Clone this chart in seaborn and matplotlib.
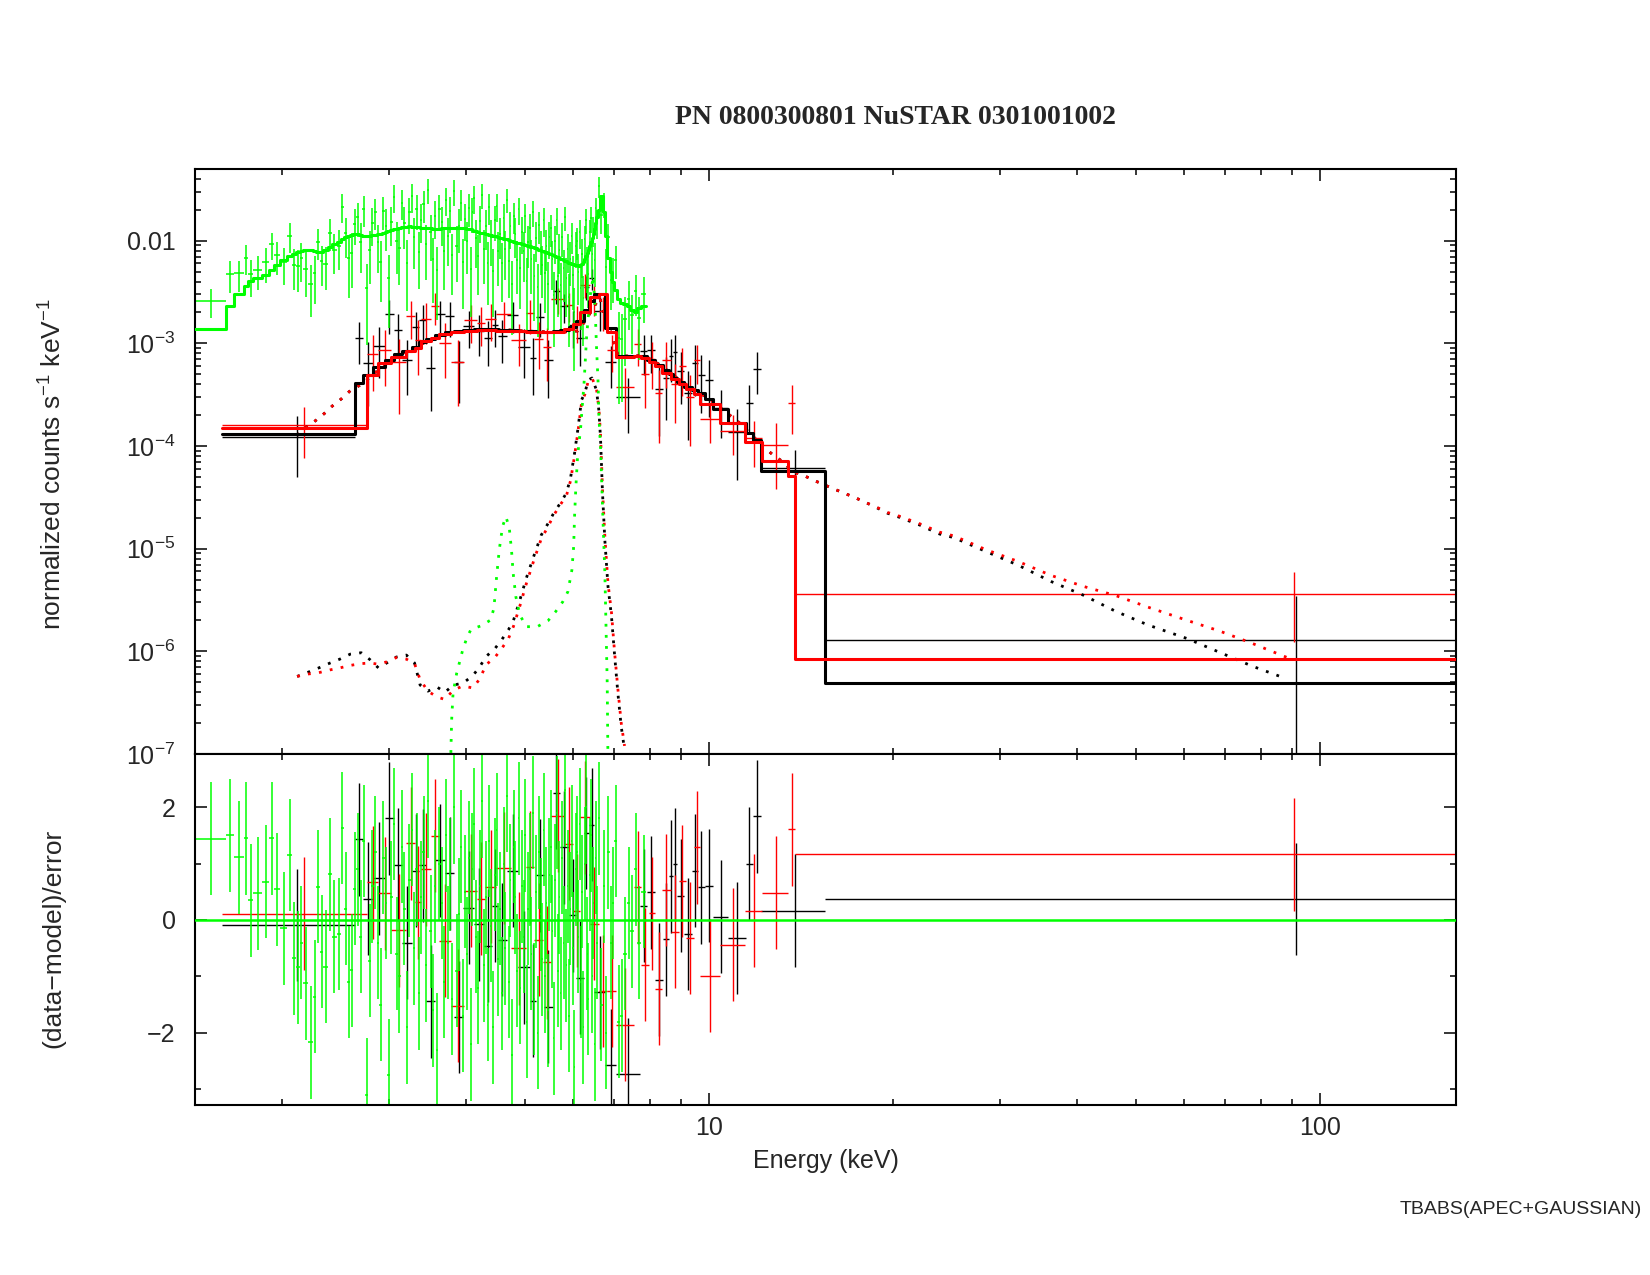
import numpy as np
import matplotlib
matplotlib.use("Agg")
import matplotlib.pyplot as plt
import matplotlib.ticker as mticker
import seaborn as sns

# XSPEC style unfolded spectrum, PN (green) + NuSTAR FPMA (black) / FPMB (red)
# each data set: bin edges (keV), folded model per bin, residual, fractional error

black_edges = [1.597, 2.636, 2.72, 2.82, 2.95, 3.05, 3.15, 3.27, 3.36, 3.45,
               3.57, 3.70, 3.83, 3.96, 4.13, 4.28, 4.41, 4.52, 4.67, 4.88,
               5.09, 5.22, 5.38, 5.55, 5.71, 5.90, 6.07, 6.24, 6.36, 6.50,
               6.76, 7.06, 7.71, 7.93, 8.16, 8.40, 8.60, 8.73, 8.88, 9.10,
               9.38, 9.60, 9.85, 10.16, 10.75, 11.50, 11.80, 12.19, 15.48, 167.5]
black_model = [1.30e-4, 4.13e-4, 4.9e-4, 5.9e-4, 6.9e-4, 7.9e-4, 8.5e-4, 9.3e-4, 1.04e-3, 1.10e-3,
               1.20e-3, 1.28e-3, 1.33e-3, 1.36e-3, 1.37e-3, 1.37e-3, 1.37e-3, 1.36e-3, 1.35e-3, 1.32e-3,
               1.31e-3, 1.30e-3, 1.30e-3, 1.31e-3, 1.35e-3, 1.45e-3, 1.65e-3, 2.1e-3, 2.6e-3, 3.05e-3,
               1.4e-3, 7.5e-4, 7.6e-4, 6.9e-4, 6.1e-4, 5.5e-4, 5.0e-4, 4.6e-4, 4.2e-4, 3.8e-4,
               3.5e-4, 3.26e-4, 2.9e-4, 2.3e-4, 1.66e-4, 1.33e-4, 1.14e-4, 5.7e-5, 4.9e-7]
black_resid = [-0.09, 1.43, 0.38, 0.74, 1.80, 0.98, -0.40, 0.87, 0.97, -1.44,
               1.06, 0.83, -1.72, 0.22, -0.08, -0.46, 0.25, -0.35, 0.87, -0.84,
               -1.43, 0.79, -1.54, 2.25, 1.29, 0.08, -1.02, 1.54, 1.69, -1.28,
               -2.57, -2.73, 0.25, 0.49, -1.06, -0.34, 0.77, 0.99, 0.43, -0.25,
               0.87, 0.58, 0.61, 0.06, -0.32, 1.0, 1.84, 0.16, 0.37]
black_rel = [0.58, 0.73, 0.7, 0.65, 0.6, 0.55, 0.5, 0.5, 0.5, 0.45,
             0.45, 0.45, 0.42, 0.42, 0.42, 0.42, 0.42, 0.42, 0.4, 0.42,
             0.42, 0.42, 0.42, 0.42, 0.42, 0.4, 0.38, 0.35, 0.3, 0.3,
             0.3, 0.35, 0.45, 0.45, 0.5, 0.55, 0.55, 0.6, 0.6, 0.6,
             0.7, 0.7, 0.7, 0.5, 0.6, 0.7, 0.97, 0.5, 2.72]

red_edges = [1.597, 2.754, 2.88, 3.02, 3.20, 3.30, 3.38, 3.51, 3.62, 3.78,
             3.98, 4.18, 4.31, 4.49, 4.75, 5.02, 5.18, 5.35, 5.52, 5.80,
             6.00, 6.16, 6.38, 6.60, 6.82, 7.06, 7.55, 7.74, 7.97, 8.17,
             8.38, 8.66, 8.93, 9.18, 9.45, 9.66, 10.42, 11.48, 12.24, 13.50,
             13.85, 167.5]
red_model = [1.50e-4, 4.9e-4, 6.4e-4, 7.4e-4, 8.4e-4, 9.0e-4, 1.05e-3, 1.12e-3, 1.22e-3, 1.30e-3,
             1.33e-3, 1.34e-3, 1.34e-3, 1.33e-3, 1.31e-3, 1.29e-3, 1.28e-3, 1.28e-3, 1.30e-3, 1.38e-3,
             1.55e-3, 2.0e-3, 2.8e-3, 3.0e-3, 1.3e-3, 7.4e-4, 7.6e-4, 7.2e-4, 6.6e-4, 6.0e-4,
             5.2e-4, 4.5e-4, 4.0e-4, 3.6e-4, 3.2e-4, 2.56e-4, 1.66e-4, 1.1e-4, 7.2e-5, 5.1e-5,
             8.4e-7]
red_resid = [0.11, 0.67, 0.47, -0.18, 1.36, 0.31, 0.9, 1.49, -0.37, -1.52,
             0.52, 0.38, 0.59, 0.92, -0.50, 0.93, -0.35, -0.75, 1.85, 1.35,
             0.16, 1.82, -0.07, -1.26, -1.26, -1.86, 0.58, -0.79, 0.12, -1.22,
             0.53, -0.21, 0.69, -0.32, 1.29, -0.99, -0.44, 0.16, 0.48, 1.61,
             1.16]
red_rel = [0.53, 0.7, 0.65, 0.65, 0.6, 0.6, 0.55, 0.5, 0.5, 0.45,
           0.45, 0.45, 0.45, 0.4, 0.4, 0.45, 0.45, 0.45, 0.4, 0.4,
           0.4, 0.35, 0.32, 0.3, 0.32, 0.37, 0.45, 0.45, 0.5, 0.5,
           0.55, 0.55, 0.6, 0.6, 0.6, 0.35, 0.38, 0.5, 0.75, 1.13,
           1.37]

green_edges = [1.443, 1.622, 1.673, 1.735, 1.765, 1.795, 1.86, 1.91, 1.945, 1.99,
               2.04, 2.08, 2.11, 2.14, 2.17, 2.21, 2.25, 2.28, 2.31, 2.34,
               2.38, 2.42, 2.46, 2.50,
               2.53, 2.56, 2.59, 2.62, 2.65, 2.68, 2.71, 2.74, 2.77, 2.80,
               2.83, 2.86, 2.89, 2.92, 2.95, 2.98, 3.01, 3.04, 3.07, 3.10,
               3.13, 3.16, 3.19, 3.22, 3.25, 3.28, 3.31, 3.34, 3.37, 3.40,
               3.43, 3.46, 3.49, 3.52, 3.55, 3.58, 3.61, 3.64, 3.67, 3.70,
               3.73, 3.76, 3.79, 3.82, 3.85, 3.88, 3.91, 3.94, 3.97, 4.00,
               4.03, 4.06, 4.09, 4.12, 4.15, 4.18, 4.21, 4.24, 4.27, 4.30,
               4.33, 4.36, 4.39, 4.42, 4.45, 4.48, 4.51, 4.54, 4.57, 4.60,
               4.63, 4.66, 4.69, 4.72, 4.75, 4.78, 4.81, 4.84, 4.87, 4.90,
               4.93, 4.96, 4.99, 5.02, 5.05, 5.08, 5.11, 5.14, 5.17, 5.20,
               5.23, 5.26, 5.29, 5.32, 5.35, 5.38, 5.41, 5.44, 5.47, 5.50,
               5.53, 5.56, 5.59, 5.62, 5.65, 5.68, 5.71, 5.74, 5.77, 5.80,
               5.83, 5.86, 5.89, 5.92, 5.95, 5.98, 6.01, 6.04, 6.07, 6.10,
               6.13, 6.16, 6.19, 6.22, 6.25, 6.28, 6.31, 6.34, 6.37, 6.40,
               6.43, 6.46, 6.49, 6.52, 6.55, 6.58,
               6.64, 6.70, 6.76, 6.82, 6.88, 6.94, 7.00, 7.08, 7.16, 7.24,
               7.34, 7.44, 7.54, 7.64, 7.76, 7.89]
# model in units of 1e-3 counts/s/keV
green_model_m = [1.39, 2.32, 3.02, 3.6, 4.05, 4.3, 4.63, 5.2, 5.8, 6.5,
                 7.1, 7.5, 7.8, 7.9, 8.1, 8.2, 8.0, 7.8, 7.8, 8.2,
                 8.7, 9.2, 9.8,
                 10.5, 10.8, 11.1, 11.4, 11.6, 11.5, 11.3, 11.1, 11.1, 11.2,
                 11.3, 11.4, 11.5, 11.7, 12.0, 12.2, 12.5, 12.7, 12.9, 13.1,
                 13.3, 13.5, 13.6, 13.7, 13.8, 13.7, 13.7, 13.6, 13.5, 13.4,
                 13.4, 13.3, 13.2, 13.2, 13.1, 13.1, 13.1, 13.1, 13.2, 13.2,
                 13.3, 13.3, 13.4, 13.4, 13.4, 13.3, 13.3, 13.3, 13.2, 13.2,
                 13.1, 13.0, 12.9, 12.7, 12.5, 12.3, 12.2, 12.0, 11.9, 11.8,
                 11.7, 11.5, 11.4, 11.3, 11.2, 11.1, 11.0, 10.9, 10.7, 10.6,
                 10.5, 10.4, 10.3, 10.2, 10.0, 9.9, 9.8, 9.7, 9.6, 9.5,
                 9.4, 9.3, 9.2, 9.1, 9.0, 8.9, 8.8, 8.7, 8.6, 8.5,
                 8.4, 8.3, 8.2, 8.1, 8.0, 7.9, 7.8, 7.7, 7.6, 7.5,
                 7.4, 7.3, 7.2, 7.1, 7.0, 6.9, 6.8, 6.7, 6.6, 6.5,
                 6.4, 6.3, 6.2, 6.1, 6.0, 5.95, 5.9, 5.85, 5.8, 5.75,
                 5.7, 5.7, 5.75, 5.9, 6.2, 6.6, 7.1, 7.6, 8.2, 8.9,
                 9.7, 10.6, 11.7, 13.0, 14.8, 17.0,
                 20.0, 27.0, 19.0, 11.0, 6.8, 5.0, 4.0, 3.3, 2.7, 2.5,
                 2.4, 2.3, 2.1, 2.0, 2.2, 2.3]
green_resid = [1.44, 1.50, 1.11, 1.45, 0.35, 0.47, 0.68, 1.45, 0.54, -0.15,
               1.15, -0.68, -0.84, -0.40, -1.12, -2.17, -1.36, 0.59, -0.56, -0.83,
               0.81, -0.30, -0.25,
               1.63, 0.2, -1.1, -0.89, 0.55, 0.9, -0.3, 1.4, -3.1, -0.72,
               0.6, 1.2, -0.4, -1.5, 1.1, 0.3, -2.75, 0.4, 1.7, -0.6,
               -1.0, 1.3, 0.2, -1.9, 0.7, 1.6, -0.5, 0.9, -1.3, 0.4,
               1.2, -0.8, 2.1, -0.2, -1.6, 0.6, -2.3, 1.0, 0.3, -1.1,
               1.5, -0.4, 0.8, -1.4, 2.0, -0.9, 0.1, 1.3, -1.7, 0.5,
               -0.6, 1.1, -2.2, 0.9, 1.7, -0.3, -1.2, 0.6, 2.1, -0.8,
               0.4, -1.5, 1.4, -0.1, -1.9, 0.8, 1.6, -0.7, 0.2, -1.3,
               1.0, -0.5, 2.2, -1.1, 0.7, -2.4, 1.3, 0.4, -0.9, 1.8,
               -1.2, 0.6, -0.3, 1.5, -1.8, 0.2, 0.9, -0.6, 1.9, -1.4,
               0.5, -2.0, 1.2, 0.1, -0.7, 1.6, -1.0, 0.3, -1.6, 0.8,
               1.3, -0.2, -2.1, 0.7, 1.9, -0.9, 0.4, -1.3, 1.1, -0.4,
               2.3, -0.8, 0.6, -1.7, 0.2, 1.4, -0.5, -2.6, 0.9, 1.2,
               -0.3, 1.7, -1.1, 0.5, -1.9, 1.0, 2.0, -0.6, -1.4, 0.8,
               1.5, -1.0, 0.3, -2.2, 1.1, -0.4,
               1.8, -1.5, 0.6, -2.0, 1.2, -0.4, 0.3, 1.4, -1.8, -1.7,
               -0.6, 0.3, -0.2, 0.9, -0.4, 0.5]
green_rel = [0.43, 0.48, 0.42, 0.45, 0.42, 0.4, 0.42, 0.4, 0.4, 0.38,
             0.4, 0.38, 0.38, 0.38, 0.38, 0.36, 0.38, 0.38, 0.38, 0.38,
             0.4, 0.4, 0.4,
             0.45, 0.44, 0.46, 0.45, 0.43, 0.45, 0.47, 0.44, 0.40, 0.45,
             0.46, 0.44, 0.45, 0.43, 0.45, 0.47, 0.40, 0.45, 0.44, 0.46,
             0.45, 0.43, 0.46, 0.44, 0.45, 0.44, 0.46, 0.45, 0.43, 0.45,
             0.44, 0.46, 0.42, 0.45, 0.44, 0.46, 0.42, 0.45, 0.44, 0.46,
             0.43, 0.45, 0.46, 0.44, 0.42, 0.45, 0.46, 0.44, 0.45, 0.43,
             0.46, 0.44, 0.42, 0.45, 0.44, 0.46, 0.45, 0.44, 0.42, 0.45,
             0.46, 0.44, 0.45, 0.46, 0.43, 0.45, 0.44, 0.46, 0.45, 0.44,
             0.46, 0.45, 0.42, 0.44, 0.46, 0.42, 0.45, 0.46, 0.44, 0.43,
             0.46, 0.45, 0.47, 0.44, 0.45, 0.46, 0.45, 0.47, 0.43, 0.46,
             0.47, 0.44, 0.46, 0.47, 0.45, 0.44, 0.47, 0.46, 0.45, 0.47,
             0.46, 0.48, 0.44, 0.47, 0.45, 0.48, 0.46, 0.47, 0.46, 0.48,
             0.44, 0.48, 0.47, 0.46, 0.48, 0.46, 0.48, 0.43, 0.47, 0.46,
             0.48, 0.45, 0.47, 0.46, 0.44, 0.45, 0.42, 0.42, 0.40, 0.38,
             0.36, 0.36, 0.34, 0.32, 0.31, 0.30,
             0.3, 0.28, 0.3, 0.35, 0.4, 0.45, 0.5, 0.5, 0.5, 0.5,
             0.55, 0.55, 0.55, 0.55, 0.55, 0.55]

# model components (dotted)
gauss_E = [2.12, 2.20, 2.30, 2.40, 2.49, 2.59, 2.70, 2.79, 2.88, 2.97,
           3.08, 3.20, 3.30, 3.37, 3.47, 3.59, 3.70, 3.82, 3.96, 4.11,
           4.22, 4.32, 4.47, 4.58, 4.70, 4.79, 4.91, 5.03, 5.18, 5.32,
           5.46, 5.57, 5.72, 5.85, 5.94, 6.03, 6.11, 6.19, 6.27, 6.35,
           6.44, 6.55, 6.61, 6.65, 6.70, 6.76, 6.84, 6.93, 7.01, 7.10,
           7.19, 7.28]
black_gauss = [5.7e-7, 6.2e-7, 6.9e-7, 7.7e-7, 8.4e-7, 9.4e-7, 9.7e-7, 8.3e-7, 6.9e-7, 7.7e-7,
               8.8e-7, 9.2e-7, 7.7e-7, 4.7e-7, 4.1e-7, 4.5e-7, 4.0e-7, 4.7e-7, 4.9e-7, 5.8e-7,
               7.1e-7, 8.9e-7, 1.07e-6, 1.29e-6, 1.62e-6, 2.0e-6, 3.2e-6, 5.2e-6, 8.7e-6, 1.36e-5,
               1.77e-5, 2.2e-5, 2.8e-5, 3.5e-5, 4.9e-5, 8.5e-5, 1.5e-4, 2.8e-4, 3.3e-4, 4.4e-4,
               4.6e-4, 3.5e-4, 2.2e-4, 1.2e-4, 3.5e-5, 1.2e-5, 4.3e-6, 2.2e-6, 9.4e-7, 3.9e-7,
               1.85e-7, 1.1e-7]
red_gauss = [5.7e-7, 6.0e-7, 6.2e-7, 6.6e-7, 6.9e-7, 7.3e-7, 7.6e-7, 7.7e-7, 7.5e-7, 7.9e-7,
             8.7e-7, 8.4e-7, 7.6e-7, 5.3e-7, 4.1e-7, 3.6e-7, 3.4e-7, 4.2e-7, 4.6e-7, 4.4e-7,
             5.4e-7, 7.4e-7, 8.8e-7, 1.06e-6, 1.33e-6, 1.75e-6, 2.8e-6, 4.6e-6, 7.9e-6, 1.25e-5,
             1.65e-5, 2.1e-5, 2.7e-5, 3.3e-5, 4.6e-5, 8.0e-5, 1.4e-4, 2.6e-4, 3.2e-4, 4.3e-4,
             4.6e-4, 3.6e-4, 2.3e-4, 1.3e-4, 3.8e-5, 1.3e-5, 4.6e-6, 2.4e-6, 1.0e-6, 4.3e-7,
             2.0e-7, 1.2e-7]
green_gauss_E = [3.78, 3.795, 3.815, 3.867, 3.956, 4.016, 4.082, 4.248, 4.395, 4.45,
                 4.495, 4.54, 4.597, 4.654, 4.713, 4.755, 4.785, 4.834, 4.906, 5.031,
                 5.24, 5.457, 5.61, 5.77, 5.88, 5.97, 6.01, 6.03, 6.06, 6.10,
                 6.17, 6.21, 6.25, 6.31, 6.39, 6.47, 6.52, 6.55, 6.59, 6.61,
                 6.65, 6.71, 6.76, 6.79, 6.82, 6.84]
green_gauss = [8.0e-8, 2.15e-7, 3.9e-7, 6.1e-7, 1.03e-6, 1.34e-6, 1.64e-6, 1.78e-6, 2.02e-6, 2.63e-6,
               5.3e-6, 9.7e-6, 1.64e-5, 2.05e-5, 1.64e-5, 9.7e-6, 5.76e-6, 3.4e-6, 2.26e-6, 1.74e-6,
               1.74e-6, 1.99e-6, 2.42e-6, 3.05e-6, 3.81e-6, 6.2e-6, 1.05e-5, 2.05e-5, 4.0e-5, 8.0e-5,
               1.5e-4, 2.5e-4, 4.1e-4, 1.16e-3, 2.8e-3, 4.5e-3, 2.0e-3, 9.3e-4, 4.1e-4, 1.9e-4,
               1.0e-4, 2.0e-5, 5.8e-6, 1.7e-6, 4.9e-7, 8.0e-8]
black_apec_E = [2.12, 2.20, 2.27, 2.35, 2.42, 2.51, 2.59, 2.69, 2.78, 2.89,
                3.00, 3.10, 3.21, 3.33, 3.45, 3.60, 3.78, 4.00, 4.30, 4.60,
                5.00, 5.30, 5.60, 5.90, 6.10, 6.30, 6.45, 6.63, 6.80, 6.95,
                7.10, 7.40, 7.80, 8.10, 8.50, 9.00, 9.50, 10.0, 10.5, 11.2,
                11.8, 12.27, 12.74, 13.23, 13.74, 14.27, 14.81, 15.48, 16.07, 16.69,
                17.44, 18.11, 18.92, 19.63, 20.53, 22.14, 23.86, 25.2, 28.4, 32.1,
                36.3, 41.0, 46.3, 52.3, 60.7, 68.5, 77.4, 87.5]
black_apec = [1.27e-4, 1.54e-4, 1.76e-4, 2.08e-4, 2.45e-4, 2.91e-4, 3.46e-4, 3.93e-4, 4.6e-4, 5.6e-4,
              6.6e-4, 7.6e-4, 8.4e-4, 9.3e-4, 1.04e-3, 1.15e-3, 1.26e-3, 1.33e-3, 1.36e-3, 1.36e-3,
              1.32e-3, 1.30e-3, 1.29e-3, 1.30e-3, 1.32e-3, 1.7e-3, 2.15e-3, 2.8e-3, 1.6e-3, 1.2e-3,
              7.6e-4, 7.5e-4, 7.6e-4, 6.9e-4, 5.6e-4, 4.3e-4, 3.5e-4, 2.9e-4, 2.3e-4, 1.7e-4,
              1.25e-4, 9.85e-5, 8.2e-5, 7.0e-5, 5.6e-5, 5.2e-5, 4.67e-5, 4.17e-5, 3.79e-5, 3.46e-5,
              3.1e-5, 2.8e-5, 2.47e-5, 2.21e-5, 2.02e-5, 1.7e-5, 1.39e-5, 1.28e-5, 9.4e-6, 6.9e-6,
              4.8e-6, 3.53e-6, 2.46e-6, 1.81e-6, 1.33e-6, 9.8e-7, 7.2e-7, 5.5e-7]
red_apec_E = [2.12, 2.20, 2.27, 2.35, 2.42, 2.51, 2.59, 2.69, 2.78, 2.89,
              3.00, 3.10, 3.21, 3.33, 3.45, 3.60, 3.78, 4.00, 4.30, 4.60,
              5.00, 5.30, 5.60, 5.90, 6.10, 6.30, 6.45, 6.63, 6.80, 6.95,
              7.10, 7.40, 7.80, 8.10, 8.50, 9.00, 9.50, 10.0, 10.5, 11.2,
              11.8, 12.27, 12.74, 13.23, 13.74, 14.27, 14.81, 15.48, 16.07, 16.69,
              17.44, 18.11, 18.92, 19.63, 20.53, 22.14, 23.86, 25.2, 28.4, 32.1,
              36.3, 41.0, 46.3, 52.3, 60.7, 68.5, 77.4, 89.3]
red_apec = [1.27e-4, 1.54e-4, 1.76e-4, 2.08e-4, 2.45e-4, 2.91e-4, 3.46e-4, 3.93e-4, 4.6e-4, 5.6e-4,
            6.6e-4, 7.6e-4, 8.4e-4, 9.3e-4, 1.04e-3, 1.15e-3, 1.26e-3, 1.33e-3, 1.36e-3, 1.36e-3,
            1.32e-3, 1.30e-3, 1.29e-3, 1.30e-3, 1.32e-3, 1.7e-3, 2.15e-3, 2.8e-3, 1.6e-3, 1.2e-3,
            7.6e-4, 7.5e-4, 7.6e-4, 6.9e-4, 5.6e-4, 4.3e-4, 3.5e-4, 2.9e-4, 2.3e-4, 1.7e-4,
            1.25e-4, 9.85e-5, 8.2e-5, 7.0e-5, 5.6e-5, 5.2e-5, 4.67e-5, 4.17e-5, 3.79e-5, 3.46e-5,
            3.1e-5, 2.8e-5, 2.5e-5, 2.25e-5, 2.07e-5, 1.75e-5, 1.45e-5, 1.33e-5, 9.8e-6, 7.5e-6,
            5.5e-6, 4.3e-6, 3.5e-6, 2.7e-6, 2.0e-6, 1.58e-6, 1.2e-6, 8.5e-7]

title = "PN 0800300801 NuSTAR 0301001002"
model_name = "TBABS(APEC+GAUSSIAN)"
ytick_vals = [1e-7, 1e-6, 1e-5, 1e-4, 1e-3, 1e-2]
ytick_labels = [r"$\mathregular{10^{-7}}$", r"$\mathregular{10^{-6}}$", r"$\mathregular{10^{-5}}$",
                r"$\mathregular{10^{-4}}$", r"$\mathregular{10^{-3}}$", "0.01"]

GREEN = "#00ff00"
RED = "#ff0000"
BLACK = "#000000"

sns.set_style("ticks")
plt.rcParams["font.family"] = ["Liberation Sans", "DejaVu Sans"]
plt.rcParams["mathtext.fontset"] = "custom"
plt.rcParams["mathtext.rm"] = "Liberation Sans"
plt.rcParams["mathtext.it"] = "Liberation Sans:italic"
plt.rcParams["mathtext.bf"] = "Liberation Sans:bold"
plt.rcParams["axes.unicode_minus"] = True


def spectrum(edges, model, resid, rel):
    # poisson-like error: err = rel * sqrt(model * data), resid = (data - model) / err
    edges = np.asarray(edges, dtype=float)
    model = np.asarray(model, dtype=float)
    resid = np.asarray(resid, dtype=float)
    rel = np.asarray(rel, dtype=float)
    lo, hi = edges[:-1], edges[1:]
    x = 0.5 * (lo + hi)
    k = resid * rel
    u = 0.5 * (k + np.sqrt(k ** 2 + 4.0))
    data = model * u ** 2
    err = rel * model * u
    return lo, hi, x, model, data, err, resid


sets = [
    (spectrum(black_edges, black_model, black_resid, black_rel), BLACK, 1.0),
    (spectrum(red_edges, red_model, red_resid, red_rel), RED, 1.0),
    (spectrum(green_edges, np.array(green_model_m) * 1e-3, green_resid, green_rel), GREEN, 1.1),
]

fig = plt.figure(figsize=(16.5, 12.75), dpi=100)
ax1 = fig.add_axes([0.1182, 0.4086, 0.7642, 0.4589])
ax2 = fig.add_axes([0.1182, 0.1333, 0.7642, 0.2753], sharex=ax1)

ax1.set_xscale("log")
ax1.set_yscale("log")
ax1.set_xlim(1.443, 167)
ax1.set_ylim(1e-7, 0.05)
ax2.set_ylim(-3.28, 2.94)

for i, ((lo, hi, x, model, data, err, resid), c, lw) in enumerate(sets):
    xerr = [x - lo, hi - x]
    ax1.errorbar(x, data, xerr=xerr, yerr=err, fmt="none", ecolor=c,
                 elinewidth=lw, capsize=0, zorder=2 + 0.1 * i)
    ax2.errorbar(x, resid, xerr=xerr, yerr=np.ones_like(resid), fmt="none",
                 ecolor=c, elinewidth=lw, capsize=0, zorder=2 + 0.1 * i)

# dotted model components
dots = (0, (1, 3))
for E, v, c in [(black_apec_E, black_apec, BLACK), (red_apec_E, red_apec, RED),
                (gauss_E, black_gauss, BLACK), (gauss_E, red_gauss, RED),
                (green_gauss_E, green_gauss, GREEN)]:
    sns.lineplot(x=E, y=v, color=c, lw=2.0, linestyle=dots, ax=ax1,
                 estimator=None, sort=False, zorder=2.5)

# folded model as histogram steps
for i, ((lo, hi, x, model, data, err, resid), c, lw) in enumerate(sets):
    xs = np.append(lo, hi[-1])
    ys = np.append(model, model[-1])
    sns.lineplot(x=xs, y=ys, color=c, lw=2.2, drawstyle="steps-post", ax=ax1,
                 estimator=None, sort=False, zorder=3 + 0.1 * i)

ax2.axhline(0, color=GREEN, lw=1.8, zorder=4)

for ax in (ax1, ax2):
    ax.tick_params(which="both", direction="in", top=True, right=True,
                   width=1.1, labelsize=18, color="black")
    ax.tick_params(which="major", length=8.6)
    ax.tick_params(which="minor", length=4.3)
    ax.tick_params(axis="y", pad=14)
    ax.tick_params(axis="x", pad=8)
    for s in ax.spines.values():
        s.set_linewidth(1.5)
        s.set_color("black")

ax1.xaxis.set_major_locator(mticker.FixedLocator([10, 100]))
ax1.xaxis.set_major_formatter(mticker.FixedFormatter(["10", "100"]))
ax1.xaxis.set_minor_locator(mticker.LogLocator(base=10, subs=np.arange(2, 10) * 1.0, numticks=20))
ax1.xaxis.set_minor_formatter(mticker.NullFormatter())
ax1.tick_params(labelbottom=False)

ax1.yaxis.set_major_locator(mticker.FixedLocator(ytick_vals))
ax1.yaxis.set_major_formatter(mticker.FixedFormatter(ytick_labels))
ax1.yaxis.set_minor_locator(mticker.LogLocator(base=10, subs=np.arange(2, 10) * 1.0, numticks=20))
ax1.yaxis.set_minor_formatter(mticker.NullFormatter())

ax2.yaxis.set_major_locator(mticker.MultipleLocator(2))
ax2.yaxis.set_minor_locator(mticker.MultipleLocator(1))

ax1.set_ylabel(r"normalized counts s$^{-1}$ keV$^{-1}$", fontsize=19, va="center")
ax1.yaxis.set_label_coords(-0.1126, 0.495)
ax2.set_ylabel("(data\u2212model)/error", fontsize=19, va="center")
ax2.yaxis.set_label_coords(-0.1126, 0.475)
ax2.set_xlabel("Energy (keV)", fontsize=18, va="center")
ax2.xaxis.set_label_coords(0.5, -0.16)

fig.text(0.543, 0.908, title, fontsize=20, fontweight="bold",
         family=["Liberation Serif", "DejaVu Serif"], ha="center", va="center")
fig.text(0.995, 0.051, model_name, fontsize=14, ha="right", va="center")

fig.savefig("out.png", dpi=100)
